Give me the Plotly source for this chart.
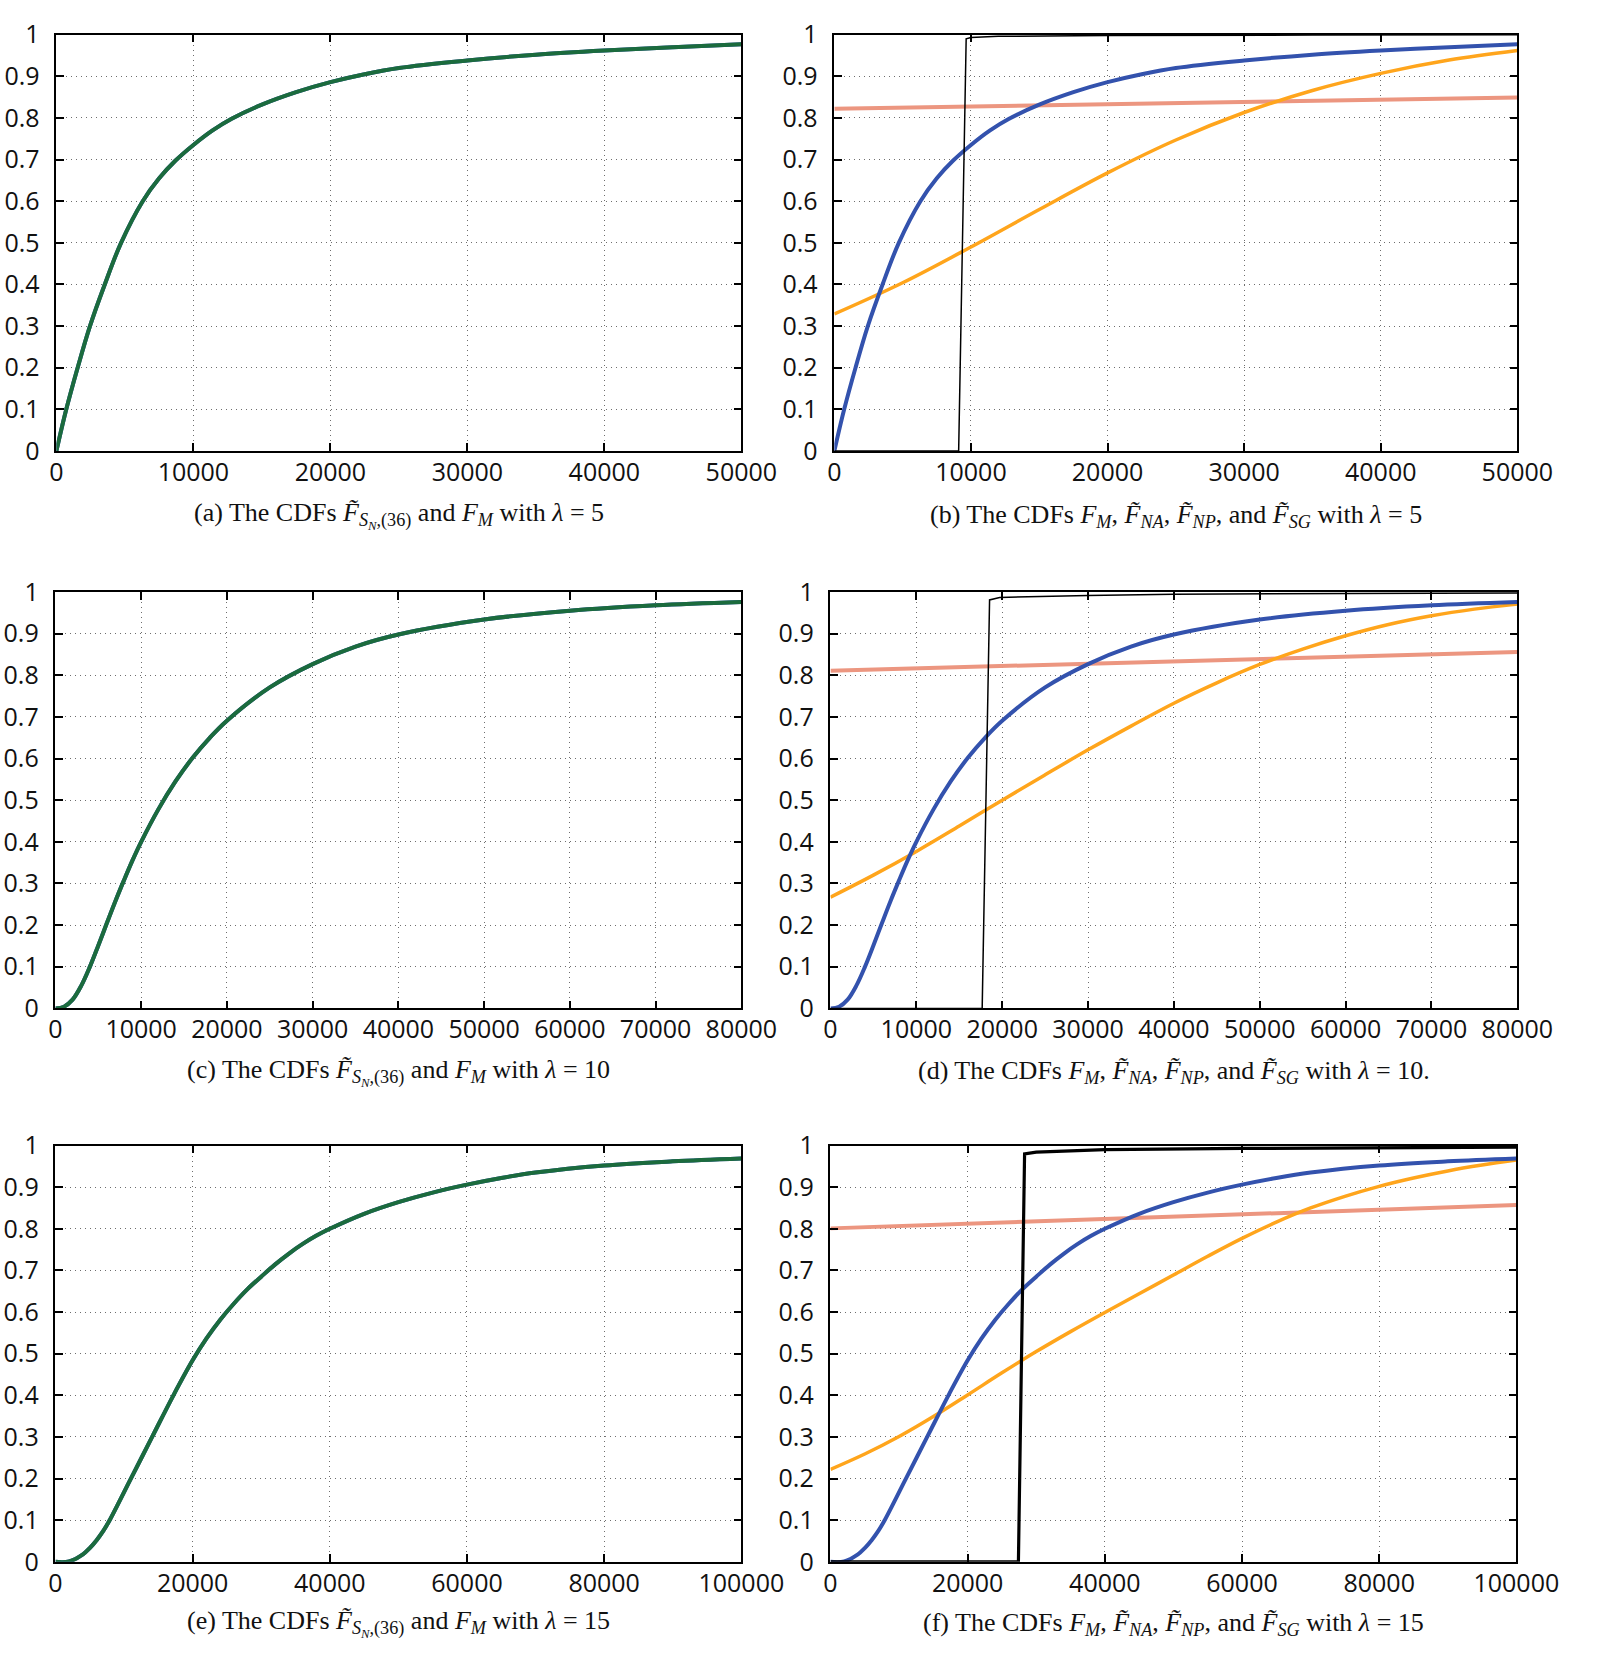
import plotly.graph_objects as go

# ---------------- data ----------------
# lambda = 5
x_fm5 = [0, 720, 1550, 2450, 3530, 4720, 6300, 7500, 8680, 10000, 11400, 12790, 15000, 17500,
         20000, 22500, 25000, 30000, 35000, 40000, 45000, 50000]
y_fm5 = [0, 0.1, 0.2, 0.3, 0.4, 0.5, 0.6, 0.655, 0.697, 0.735, 0.77, 0.798, 0.832, 0.862,
         0.886, 0.905, 0.92, 0.938, 0.952, 0.962, 0.970, 0.977]
y_sn5 = [0, 0.1, 0.2, 0.3, 0.4, 0.5, 0.6, 0.655, 0.697, 0.735, 0.77, 0.798, 0.832, 0.862,
         0.886, 0.905, 0.92, 0.938, 0.952, 0.962, 0.970, 0.977]
x_np5 = [0, 5000, 10000, 15000, 20000, 25000, 30000, 35000, 40000, 45000, 50000]
y_np5 = [0.329, 0.404, 0.49, 0.58, 0.668, 0.747, 0.813, 0.866, 0.907, 0.939, 0.962]
x_sg5 = [0, 50000]
y_sg5 = [0.822, 0.849]
x_na5 = [0, 9100, 9650, 10000, 12000, 20000, 35000, 50000]
y_na5 = [0, 0, 0.99, 0.993, 0.996, 0.998, 0.999, 1.0]

# lambda = 10
x_fm10 = [0, 1000, 2000, 3000, 4000, 5000, 6000, 7000, 8000, 9000, 10000, 12000, 14000, 16000,
          18000, 20000, 25000, 30000, 35000, 40000, 50000, 60000, 70000, 80000]
y_fm10 = [0, 0.004, 0.021, 0.054, 0.099, 0.151, 0.205, 0.258, 0.308, 0.356, 0.40, 0.478, 0.545, 0.602,
          0.65, 0.691, 0.771, 0.827, 0.869, 0.898, 0.934, 0.955, 0.968, 0.976]
y_sn10 = [0, 0.004, 0.021, 0.054, 0.099, 0.151, 0.205, 0.258, 0.308, 0.356, 0.40, 0.478, 0.545, 0.602,
          0.65, 0.691, 0.771, 0.827, 0.869, 0.898, 0.934, 0.955, 0.968, 0.976]
x_np10 = [0, 5000, 10000, 15000, 20000, 25000, 30000, 35000, 40000, 45000, 50000, 55000,
          60000, 65000, 70000, 75000, 80000]
y_np10 = [0.267, 0.32, 0.377, 0.438, 0.50, 0.561, 0.621, 0.678, 0.733, 0.782, 0.826, 0.863,
          0.895, 0.922, 0.943, 0.959, 0.971]
x_sg10 = [0, 80000]
y_sg10 = [0.811, 0.856]
x_na10 = [0, 17670, 18530, 19700, 30000, 40000, 80000]
y_na10 = [0, 0, 0.981, 0.987, 0.992, 0.995, 0.998]

# lambda = 15
x_fm15 = [0, 2000, 4000, 5000, 6000, 7000, 7900, 11000, 14100, 17200, 20000, 22000, 24000, 26000,
          28000, 30000, 32000, 34000, 36000, 38000, 40000, 45000, 50000, 55000, 60000, 65000,
          70000, 80000, 90000, 100000]
y_fm15 = [0, 0.001, 0.018, 0.033, 0.052, 0.075, 0.1, 0.2, 0.3, 0.4, 0.484, 0.536, 0.581, 0.62,
          0.655, 0.685, 0.714, 0.74, 0.763, 0.783, 0.80, 0.836, 0.864, 0.887, 0.906, 0.922,
          0.935, 0.952, 0.962, 0.969]
y_sn15 = [0, 0.001, 0.018, 0.033, 0.052, 0.075, 0.1, 0.2, 0.3, 0.4, 0.484, 0.536, 0.581, 0.62,
          0.655, 0.685, 0.714, 0.74, 0.763, 0.783, 0.80, 0.836, 0.864, 0.887, 0.906, 0.922,
          0.935, 0.952, 0.962, 0.969]
x_np15 = [0, 5000, 10000, 15000, 20000, 25000, 30000, 35000, 40000, 45000, 50000, 55000,
          60000, 65000, 70000, 75000, 80000, 85000, 90000, 95000, 100000]
y_np15 = [0.222, 0.259, 0.301, 0.349, 0.401, 0.454, 0.505, 0.553, 0.599, 0.644, 0.689, 0.734,
          0.777, 0.816, 0.85, 0.878, 0.902, 0.922, 0.939, 0.953, 0.965]
x_sg15 = [0, 100000]
y_sg15 = [0.801, 0.857]
x_na15 = [0, 27400, 28300, 30000, 40000, 60000, 100000]
y_na15 = [0, 0, 0.98, 0.984, 0.99, 0.993, 0.996]

y_ticks = [0, 0.1, 0.2, 0.3, 0.4, 0.5, 0.6, 0.7, 0.8, 0.9, 1]
y_tick_text = ["0", "0.1", "0.2", "0.3", "0.4", "0.5", "0.6", "0.7", "0.8", "0.9", "1"]
x_ticks5 = [0, 10000, 20000, 30000, 40000, 50000]
x_ticks10 = [0, 10000, 20000, 30000, 40000, 50000, 60000, 70000, 80000]
x_ticks15 = [0, 20000, 40000, 60000, 80000, 100000]

captions = [
    "(a) The CDFs <i>F̃</i><sub><i>S<sub>N</sub></i>,(36)</sub> and <i>F</i><sub><i>M</i></sub> with <i>λ</i> = 5",
    "(b) The CDFs <i>F</i><sub><i>M</i></sub>, <i>F̃</i><sub><i>NA</i></sub>, <i>F̃</i><sub><i>NP</i></sub>, and <i>F̃</i><sub><i>SG</i></sub> with <i>λ</i> = 5",
    "(c) The CDFs <i>F̃</i><sub><i>S<sub>N</sub></i>,(36)</sub> and <i>F</i><sub><i>M</i></sub> with <i>λ</i> = 10",
    "(d) The CDFs <i>F</i><sub><i>M</i></sub>, <i>F̃</i><sub><i>NA</i></sub>, <i>F̃</i><sub><i>NP</i></sub>, and <i>F̃</i><sub><i>SG</i></sub> with <i>λ</i> = 10.",
    "(e) The CDFs <i>F̃</i><sub><i>S<sub>N</sub></i>,(36)</sub> and <i>F</i><sub><i>M</i></sub> with <i>λ</i> = 15",
    "(f) The CDFs <i>F</i><sub><i>M</i></sub>, <i>F̃</i><sub><i>NA</i></sub>, <i>F̃</i><sub><i>NP</i></sub>, and <i>F̃</i><sub><i>SG</i></sub> with <i>λ</i> = 15",
]

# ---------------- style ----------------
W, H = 1602, 1667
BLUE = "#3352ad"
GREEN = "#1b6b3d"
ORANGE = "#ffa51c"
SALMON = "#ec9680"
BLACK = "#000000"

# pixel boxes (left, right, top, bottom)
boxes = [
    (51, 758, 17, 442), (854, 1559, 17, 442),
    (50, 758, 586, 1011), (850, 1559, 586, 1011),
    (50, 758, 1151, 1576), (850, 1558, 1151, 1576),
]
cap_y = [508, 508, 1076, 1076, 1639, 1639]

fig = go.Figure()


def line(i, x, y, color, width, shape="spline"):
    fig.add_trace(go.Scatter(
        x=x, y=y, mode="lines", xaxis=f"x{i}", yaxis=f"y{i}",
        line=dict(color=color, width=width, shape=shape, smoothing=1.0),
        showlegend=False, hoverinfo="skip"))


# (a) (c) (e)
line(1, x_fm5, y_fm5, BLUE, 4)
line(1, x_fm5, y_sn5, GREEN, 4)
line(3, x_fm10, y_fm10, BLUE, 4)
line(3, x_fm10, y_sn10, GREEN, 4)
line(5, x_fm15, y_fm15, BLUE, 4)
line(5, x_fm15, y_sn15, GREEN, 4)

# (b) (d) (f)
for i, (xs, ys, xn, yn, xf, yf, xa, ya, bw) in {
    2: (x_sg5, y_sg5, x_np5, y_np5, x_fm5, y_fm5, x_na5, y_na5, 1.5),
    4: (x_sg10, y_sg10, x_np10, y_np10, x_fm10, y_fm10, x_na10, y_na10, 1.5),
    6: (x_sg15, y_sg15, x_np15, y_np15, x_fm15, y_fm15, x_na15, y_na15, 3.2),
}.items():
    line(i, xs, ys, SALMON, 4, "linear")
    line(i, xn, yn, ORANGE, 3.5)
    line(i, xf, yf, BLUE, 4)
    line(i, xa, ya, BLACK, bw, "linear")

xmax = [50000, 50000, 80000, 80000, 100000, 100000]
xticks = [x_ticks5, x_ticks5, x_ticks10, x_ticks10, x_ticks15, x_ticks15]

tickfont = dict(family="Open Sans", size=25, color="#111111")
common = dict(
    showgrid=True, gridcolor="#6e6e6e", gridwidth=1, griddash="1px,4px",
    zeroline=False, showline=True, linecolor="black", linewidth=1.5,
    mirror="allticks", ticks="inside", ticklen=8, tickwidth=1.5, tickcolor="black",
    tickfont=tickfont, tickangle=0,
)

layout = dict(
    width=W, height=H, margin=dict(l=0, r=0, t=0, b=0),
    paper_bgcolor="white", plot_bgcolor="white", showlegend=False,
)
annotations = []
for k in range(6):
    i = k + 1
    l, r, t, b = boxes[k]
    sx = "" if i == 1 else str(i)
    layout[f"xaxis{sx}"] = dict(
        domain=[l / W, r / W], range=[0, xmax[k]], anchor=f"y{i}",
        tickvals=xticks[k], ticktext=[str(v) for v in xticks[k]],
        ticklabelstandoff=-2, **common)
    layout[f"yaxis{sx}"] = dict(
        domain=[1 - b / H, 1 - t / H], range=[0, 1], anchor=f"x{i}",
        tickvals=y_ticks, ticktext=y_tick_text, ticklabelstandoff=10, **common)
    annotations.append(dict(
        text=captions[k], x=(l + r) / 2 / W, y=1 - cap_y[k] / H,
        xref="paper", yref="paper", xanchor="center", yanchor="middle",
        showarrow=False, font=dict(family="Liberation Serif", size=26, color="#111111")))
layout["annotations"] = annotations

fig.update_layout(**layout)
fig.write_html(
    "out.html",
    config={"displayModeBar": False},
    post_script="document.body.style.margin='0px';document.body.style.overflow='hidden';",
)
